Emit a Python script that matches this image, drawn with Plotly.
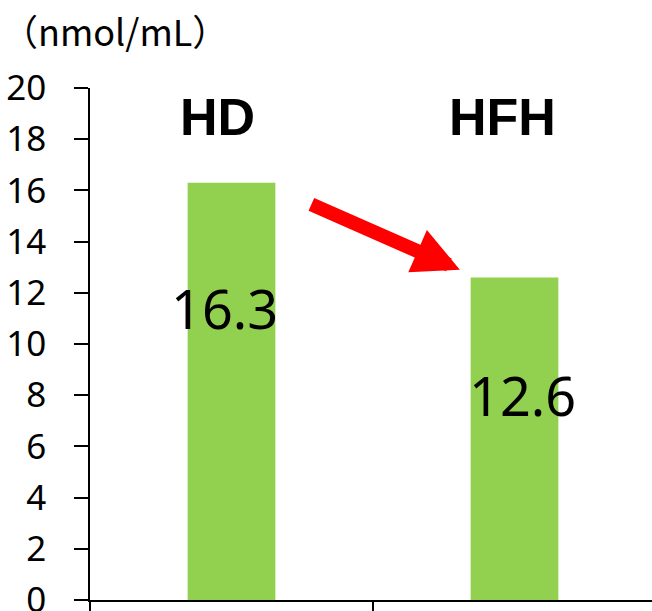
import plotly.graph_objects as go

categories = ["HD", "HFH"]
values = [16.3, 12.6]
label_texts = ["16.3", "12.6"]
tick_vals = [0, 2, 4, 6, 8, 10, 12, 14, 16, 18, 20]
unit_label = "（nmol/mL）"

W, H = 652, 611
ML, MR, MT, MB = 90, 0, 88, 11
PW, PH = W - ML - MR, H - MT - MB

fig = go.Figure()
fig.add_trace(go.Bar(
    x=[0, 1], y=values, width=0.31,
    marker=dict(color="#92D050", line=dict(width=0)),
    hoverinfo="skip",
))

# data labels
lab_dx = [-0.025, 0.027]
lab_dy = [-4.9, -4.6]
for i, (v, t) in enumerate(zip(values, label_texts)):
    fig.add_annotation(x=i + lab_dx[i], y=v + lab_dy[i], xref="x", yref="y",
                       text=t, showarrow=False,
                       font=dict(family="Noto Sans", size=54, color="black"))

# category headers
cat_dx = [-0.048, -0.041]
for i, c in enumerate(categories):
    fig.add_annotation(x=i + cat_dx[i], y=18.85, xref="x", yref="y",
                       text="<b>%s</b>" % c, showarrow=False,
                       font=dict(family="Liberation Sans", size=52, color="black"))

# red arrow
fig.add_annotation(x=0.807, y=12.9, xref="x", yref="y",
                   ax=-150, ay=-66, axref="pixel", ayref="pixel",
                   text="", showarrow=True, arrowhead=2, arrowsize=0.66,
                   arrowwidth=14, arrowcolor="#FF0000")

# unit label
fig.add_annotation(x=(0 - ML) / PW, y=(600 - 30) / PH, xref="paper", yref="paper",
                   xanchor="left", yanchor="middle", text=unit_label,
                   showarrow=False,
                   font=dict(family="Noto Sans CJK JP", size=36, color="black"))

x_right = -0.5 + PW / 283.0

fig.update_layout(
    width=W, height=H,
    margin=dict(l=ML, r=MR, t=MT, b=MB, pad=0, autoexpand=False),
    paper_bgcolor="white", plot_bgcolor="white",
    showlegend=False,
    xaxis=dict(
        type="linear", range=[-0.5, x_right], tickmode="array",
        tickvals=[-0.5, 0.5, 1.5], ticktext=["", "", ""],
        ticks="outside", ticklen=10, tickwidth=1.5, tickcolor="black",
        showline=True, linecolor="black", linewidth=1.5,
        showgrid=False, zeroline=False, showticklabels=False,
        automargin=False,
    ),
    yaxis=dict(
        range=[0, 20], tickmode="array", tickvals=tick_vals,
        ticks="outside", ticklen=14, tickwidth=1.5, tickcolor="black",
        showline=True, linecolor="black", linewidth=1.5,
        showgrid=False, zeroline=False,
        tickfont=dict(family="Noto Sans", size=35, color="black"),
        ticklabelstandoff=21, ticklabeloverflow="allow",
        automargin=False,
    ),
)

fig.write_html("out.html", config={"displayModeBar": False},
               post_script="document.body.style.margin='0px';document.body.style.overflow='hidden';")
